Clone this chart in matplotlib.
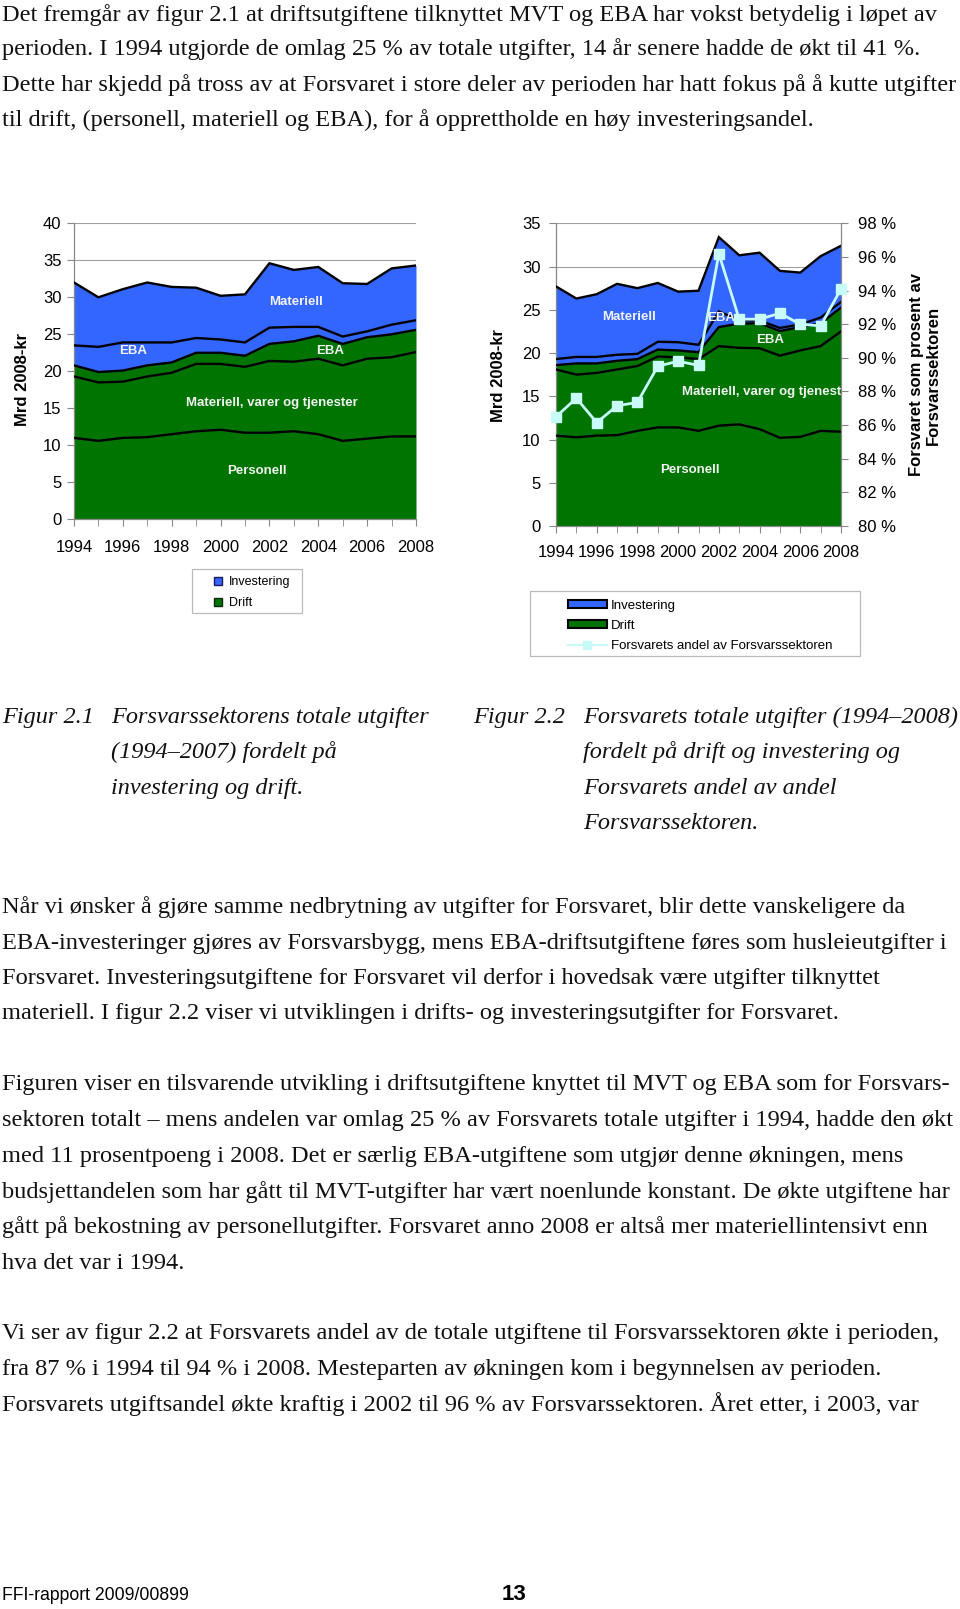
import matplotlib
matplotlib.use('Agg')
import matplotlib.pyplot as plt
import numpy as np
from matplotlib.lines import Line2D
from matplotlib.patches import Patch, Rectangle
from matplotlib.ticker import MultipleLocator, FuncFormatter
from matplotlib import font_manager

plt.rcParams['font.family'] = ['Liberation Sans', 'DejaVu Sans']

W, H = 960, 1609
years = list(range(1994, 2009))

# ---------- Figur 2.1: Forsvarssektoren (Mrd 2008-kr) ----------
f1_personell = [11.0, 10.6, 11.0, 11.1, 11.5, 11.9, 12.1, 11.7, 11.7, 11.9, 11.5, 10.6, 10.9, 11.2, 11.2]
f1_mvt       = [8.3, 7.9, 7.6, 8.2, 8.3, 9.1, 8.9, 8.9, 9.7, 9.4, 10.2, 10.2, 10.8, 10.7, 11.4]
f1_eba_drift = [1.5, 1.4, 1.5, 1.5, 1.4, 1.5, 1.5, 1.5, 2.3, 2.75, 3.1, 2.9, 2.9, 3.1, 3.0]
f1_eba_inv   = [2.7, 3.4, 3.8, 3.1, 2.7, 2.0, 1.8, 1.8, 2.2, 1.95, 1.2, 1.0, 0.8, 1.3, 1.3]
f1_mat_inv   = [8.5, 6.7, 7.2, 8.1, 7.5, 6.8, 5.9, 6.5, 8.7, 7.7, 8.1, 7.2, 6.4, 7.6, 7.4]

# ---------- Figur 2.2: Forsvaret (Mrd 2008-kr) ----------
f2_personell = [10.45, 10.25, 10.45, 10.5, 11.0, 11.4, 11.4, 11.0, 11.6, 11.75, 11.2, 10.2, 10.3, 11.0, 10.9]
f2_mvt       = [7.65, 7.25, 7.25, 7.6, 7.5, 8.2, 8.1, 8.3, 9.2, 8.85, 9.35, 9.5, 10.0, 9.8, 11.6]
f2_eba_drift = [0.5, 1.3, 1.1, 1.0, 0.8, 0.8, 0.8, 0.8, 2.2, 2.8, 2.9, 2.85, 2.7, 2.65, 2.75]
f2_eba_inv   = [0.7, 0.75, 0.75, 0.7, 0.6, 0.9, 0.95, 0.85, 1.8, 0.4, 0.3, 0.35, 0.3, 0.65, 0.65]
f2_mat_inv   = [8.4, 6.75, 7.25, 8.2, 7.6, 6.8, 5.85, 6.25, 8.6, 7.5, 7.85, 6.6, 6.0, 7.1, 6.5]
f2_andel_pct = [86.5, 87.6, 86.15, 87.15, 87.35, 89.5, 89.8, 89.55, 96.2, 92.3, 92.3, 92.65, 92.0, 91.9, 94.1]

# ---------- Texts ----------
para1 = ["Det fremgår av figur 2.1 at driftsutgiftene tilknyttet MVT og EBA har vokst betydelig i løpet av",
         "perioden. I 1994 utgjorde de omlag 25 % av totale utgifter, 14 år senere hadde de økt til 41 %.",
         "Dette har skjedd på tross av at Forsvaret i store deler av perioden har hatt fokus på å kutte utgifter",
         "til drift, (personell, materiell og EBA), for å opprettholde en høy investeringsandel."]
cap1 = ["Forsvarssektorens totale utgifter", "(1994–2007) fordelt på", "investering og drift."]
cap2 = ["Forsvarets totale utgifter (1994–2008)", "fordelt på drift og investering og",
        "Forsvarets andel av andel", "Forsvarssektoren."]
para2 = ["Når vi ønsker å gjøre samme nedbrytning av utgifter for Forsvaret, blir dette vanskeligere da",
         "EBA-investeringer gjøres av Forsvarsbygg, mens EBA-driftsutgiftene føres som husleieutgifter i",
         "Forsvaret. Investeringsutgiftene for Forsvaret vil derfor i hovedsak være utgifter tilknyttet",
         "materiell. I figur 2.2 viser vi utviklingen i drifts- og investeringsutgifter for Forsvaret."]
para3 = ["Figuren viser en tilsvarende utvikling i driftsutgiftene knyttet til MVT og EBA som for Forsvars-",
         "sektoren totalt – mens andelen var omlag 25 % av Forsvarets totale utgifter i 1994, hadde den økt",
         "med 11 prosentpoeng i 2008. Det er særlig EBA-utgiftene som utgjør denne økningen, mens",
         "budsjettandelen som har gått til MVT-utgifter har vært noenlunde konstant. De økte utgiftene har",
         "gått på bekostning av personellutgifter. Forsvaret anno 2008 er altså mer materiellintensivt enn",
         "hva det var i 1994."]
para4 = ["Vi ser av figur 2.2 at Forsvarets andel av de totale utgiftene til Forsvarssektoren økte i perioden,",
         "fra 87 % i 1994 til 94 % i 2008. Mesteparten av økningen kom i begynnelsen av perioden.",
         "Forsvarets utgiftsandel økte kraftig i 2002 til 96 % av Forsvarssektoren. Året etter, i 2003, var"]

BLUE = '#3366FF'
GREEN = '#007400'
LBL = '#F2F2F2'
GRID = '#A0A0A0'
CYAN = '#C8FAFA'

fig = plt.figure(figsize=(W / 100, H / 100), dpi=100)


def fy(y):
    return 1 - y / H


def stacked(ax, layers, colors):
    base = np.zeros(len(years))
    tops = []
    for vals, c in zip(layers, colors):
        top = base + np.array(vals)
        ax.fill_between(years, base, top, color=c, lw=0, zorder=2)
        tops.append(top)
        base = top
    for top in tops:
        ax.plot(years, top, color='black', lw=1.7, zorder=3, solid_joinstyle='miter')


def style(ax, ymax, ystep, xpad, ypad):
    ax.set_xlim(1994, 2008)
    ax.set_ylim(0, ymax)
    ax.set_xticks(range(1994, 2009, 2))
    ax.xaxis.set_minor_locator(MultipleLocator(1))
    ax.yaxis.set_major_locator(MultipleLocator(ystep))
    ax.yaxis.grid(True, color=GRID, lw=0.8)
    ax.set_axisbelow(True)
    for s in ['top', 'right']:
        ax.spines[s].set_visible(False)
    for s in ['left', 'bottom']:
        ax.spines[s].set_color('#888888')
        ax.spines[s].set_linewidth(0.9)
    ax.tick_params(axis='x', which='both', direction='out', length=5, color='#888888',
                   labelsize=12, pad=xpad)
    ax.tick_params(axis='y', direction='out', length=5, color='#888888', labelsize=12, pad=ypad)


# ---------- Left chart ----------
ax1 = fig.add_axes([74 / W, fy(519.3), 342 / W, 296 / H])
stacked(ax1, [f1_personell, f1_mvt, f1_eba_drift, f1_eba_inv, f1_mat_inv],
        [GREEN, GREEN, GREEN, BLUE, BLUE])
style(ax1, 40, 5, 10, 4)
kw = dict(color=LBL, fontweight='bold', fontsize=9.5, zorder=4)
ax1.text(2003.1, 29.4, 'Materiell', ha='center', va='center', **kw)
ax1.text(1996.4, 22.7, 'EBA', ha='center', va='center', **kw)
ax1.text(2004.5, 22.7, 'EBA', ha='center', va='center', **kw)
ax1.text(1998.6, 15.7, 'Materiell, varer og tjenester', ha='left', va='center', **kw)
ax1.text(2001.5, 6.5, 'Personell', ha='center', va='center', **kw)
fig.text(23 / W, fy(380), 'Mrd 2008-kr', rotation=90, ha='center', va='center',
         fontsize=12, fontweight='bold')

# ---------- Right chart ----------
ax2 = fig.add_axes([556 / W, fy(526), 285 / W, 302.7 / H])
stacked(ax2, [f2_personell, f2_mvt, f2_eba_drift, f2_eba_inv, f2_mat_inv],
        [GREEN, GREEN, GREEN, BLUE, BLUE])
style(ax2, 35, 5, 9, 6)
kw2 = dict(color=LBL, fontweight='bold', fontsize=9.5, zorder=4)
ax2.text(1997.6, 24.2, 'Materiell', ha='center', va='center', **kw2)
ax2.text(2002.1, 24.1, 'EBA', ha='center', va='center', **kw2)
ax2.text(2004.5, 21.5, 'EBA', ha='center', va='center', **kw2)
ax2.text(2000.2, 15.5, 'Materiell, varer og tjenester', ha='left', va='center', clip_on=True, **kw2)
ax2.text(2000.6, 6.5, 'Personell', ha='center', va='center', **kw2)

ax2r = ax2.twinx()
ax2r.set_ylim(80, 98)
ax2r.yaxis.set_major_locator(MultipleLocator(2))
ax2r.yaxis.set_major_formatter(FuncFormatter(lambda v, p: f'{v:.0f} %'))
for s in ['top', 'left', 'bottom']:
    ax2r.spines[s].set_visible(False)
ax2r.spines['right'].set_color('#888888')
ax2r.spines['right'].set_linewidth(0.9)
ax2r.tick_params(axis='y', direction='out', length=5, color='#888888', labelsize=12, pad=7)
ax2r.plot(years, f2_andel_pct, color=CYAN, lw=2, marker='s', markersize=7,
          markerfacecolor=CYAN, markeredgecolor=CYAN, zorder=5, clip_on=False)

fig.text(498 / W, fy(375), 'Mrd 2008-kr', rotation=90, ha='center', va='center',
         fontsize=12, fontweight='bold')
fig.text(925 / W, fy(375), 'Forsvaret som prosent av\nForsvarssektoren', rotation=90,
         ha='center', va='center', multialignment='center', fontsize=12,
         fontweight='bold', linespacing=1.1)

# ---------- Legends ----------
fig.add_artist(Rectangle((192 / W, fy(613)), 110 / W, 44 / H, transform=fig.transFigure,
                         facecolor='white', edgecolor='#BBBBBB', lw=0.9))
h1 = [Line2D([], [], ls='none', marker='s', markersize=6, markerfacecolor=BLUE, markeredgecolor='#1a1a60'),
      Line2D([], [], ls='none', marker='s', markersize=6, markerfacecolor=GREEN, markeredgecolor='#0a2a0a')]
fig.legend(h1, ['Investering', 'Drift'], loc='upper left', bbox_to_anchor=(205 / W, fy(570)),
           frameon=False, borderpad=0, handlelength=1.0, handletextpad=0.45,
           labelspacing=0.7, fontsize=9)

fig.add_artist(Rectangle((530 / W, fy(656)), 330 / W, 65 / H, transform=fig.transFigure,
                         facecolor='white', edgecolor='#BBBBBB', lw=0.9))
h2 = [Patch(facecolor=BLUE, edgecolor='black', lw=1.5),
      Patch(facecolor=GREEN, edgecolor='black', lw=1.5),
      Line2D([], [], color=CYAN, lw=1.5, marker='s', markersize=6, markerfacecolor=CYAN,
             markeredgecolor=CYAN)]
fig.legend(h2, ['Investering', 'Drift', 'Forsvarets andel av Forsvarssektoren'], loc='upper left',
           bbox_to_anchor=(561 / W, fy(593)), frameon=False, borderpad=0, handlelength=3.0,
           handleheight=0.6, handletextpad=0.3, labelspacing=0.62, fontsize=9.5)

# ---------- Body text ----------
fig.canvas.draw()
rend = fig.canvas.get_renderer()


def fit_size(text, target, **kw):
    t = fig.text(0, 0, text, fontsize=10, **kw)
    w = t.get_window_extent(renderer=rend).width
    t.remove()
    return 10 * target / w


SERIF = ['Liberation Serif', 'DejaVu Serif']
body_fs = fit_size(para1[0], 934, family=SERIF)
cap_fs = fit_size(cap2[0], 375, family=SERIF, style='italic')


def lines(txts, baselines, x=1.5, **kw):
    for t, b in zip(txts, baselines):
        fig.text(x / W, fy(b), t, ha='left', va='baseline', **kw)


bkw = dict(family=SERIF, fontsize=body_fs, color='#111111')
lines(para1, [20.5, 55.4, 91.3, 126.2], **bkw)
lines(para2, [912.8, 948.7, 983.6, 1019.4], **bkw)
lines(para3, [1090.2, 1126.1, 1162.0, 1197.9, 1232.7, 1268.6], **bkw)
lines(para4, [1339.4, 1375.3, 1411.2], **bkw)

ckw = dict(family=SERIF, fontsize=cap_fs, style='italic', color='#111111')
cap_base = [723.1, 757.9, 793.8, 828.7]
lines(['Figur 2.1'], cap_base[:1], x=2, **ckw)
lines(cap1, cap_base[:3], x=111, **ckw)
lines(['Figur 2.2'], cap_base[:1], x=473, **ckw)
lines(cap2, cap_base, x=583, **ckw)

# ---------- Footer ----------
names = {f.name for f in font_manager.fontManager.ttflist}
if 'Liberation Sans Narrow' in names:
    fig.text(2 / W, fy(1596), 'FFI-rapport 2009/00899', family='Liberation Sans Narrow',
             fontsize=14.5, ha='left', va='center')
else:
    fs = fit_size('FFI-rapport 2009/00899', 186, family='Liberation Sans')
    fig.text(2 / W, fy(1596), 'FFI-rapport 2009/00899', family='Liberation Sans',
             fontsize=fs, ha='left', va='center')
fig.text(514 / W, fy(1594), '13', fontsize=16, fontweight='bold', ha='center', va='center')

fig.savefig('out.png', dpi=100, facecolor='white')
